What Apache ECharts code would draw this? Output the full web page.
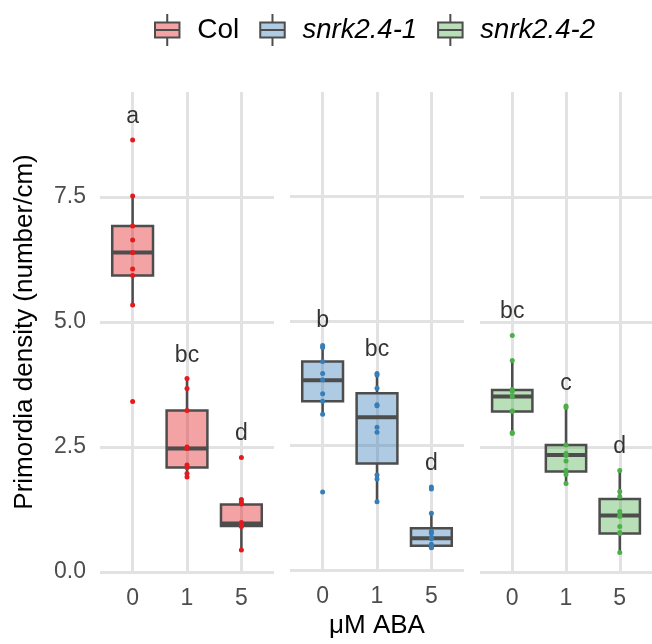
<!DOCTYPE html>
<html>
<head>
<meta charset="utf-8">
<script src="https://cdn.jsdelivr.net/npm/echarts@6/dist/echarts.min.js"></script>
<style>
  html, body { margin: 0; padding: 0; background: #fff; }
  #main { width: 652px; height: 644px; }
</style>
</head>
<body>
<div id="main"></div>
<script>
// ABA doses on the x axis of every panel
const doses = ['0', '1', '5']
const genotypes = ['Col', 'snrk2.4-1', 'snrk2.4-2']

const colPoints = [
  [8.64, 7.52, 6.92, 6.64, 6.39, 6.06, 5.93, 5.34, 3.41],
  [3.87, 3.67, 3.23, 2.50, 2.47, 2.14, 2.09, 1.97, 1.90],
  [2.29, 1.45, 1.40, 1.36, 0.99, 0.96, 0.93, 0.91, 0.44]
]
const snrk1Points = [
  [4.51, 4.47, 4.19, 3.95, 3.82, 3.54, 3.39, 3.13, 1.57],
  [3.95, 3.92, 3.65, 3.32, 3.30, 2.87, 2.77, 1.91, 1.83, 1.37],
  [1.67, 1.63, 1.14, 0.78, 0.74, 0.66, 0.63, 0.52, 0.49, 0.47, 0.46, 0.45]
]
const snrk2Points = [
  [4.73, 4.23, 3.65, 3.61, 3.51, 3.22, 3.21, 2.79, 2.77],
  [3.32, 3.29, 2.54, 2.37, 2.33, 2.22, 2.03, 1.95, 1.77],
  [2.03, 1.61, 1.51, 1.21, 1.13, 1.11, 0.91, 0.79, 0.77, 0.39]
]

// box stats: [lower whisker, Q1, median, Q3, upper whisker]
const colBox = [
  [5.34, 5.93, 6.39, 6.92, 7.52],
  [1.90, 2.09, 2.47, 3.23, 3.87],
  [0.44, 0.92, 0.97, 1.35, 1.44]
]
const snrk1Box = [
  [3.13, 3.39, 3.81, 4.19, 4.51],
  [1.37, 2.14, 3.07, 3.55, 3.95],
  [0.45, 0.49, 0.64, 0.84, 1.14]
]
const snrk2Box = [
  [2.78, 3.21, 3.51, 3.64, 4.23],
  [1.77, 2.01, 2.34, 2.54, 3.31],
  [0.39, 0.77, 1.13, 1.46, 2.03]
]

// significance letters and the height they sit at
const colLetters = ['a', 'bc', 'd']
const colLetterY = [9.1, 4.32, 2.77]
const snrk1Letters = ['b', 'bc', 'd']
const snrk1LetterY = [5.0, 4.42, 2.14]
const snrk2Letters = ['bc', 'c', 'd']
const snrk2LetterY = [5.2, 3.77, 2.5]

const yTicks = [0, 2.5, 5, 7.5]

const pointColors = ['#E41A1C', '#377EB8', '#4DAF4A']
const fillColors = ['rgba(228,26,28,0.4)', 'rgba(55,126,184,0.4)', 'rgba(77,175,74,0.4)']
const dark = '#4d4d4d'
const gridColor = '#e2e2e2'
const font = 'Liberation Sans, Arial, sans-serif'

const allPoints = [colPoints, snrk1Points, snrk2Points]
const allBoxes = [colBox, snrk1Box, snrk2Box]
const allLetters = [colLetters, snrk1Letters, snrk2Letters]
const allLetterY = [colLetterY, snrk1LetterY, snrk2LetterY]

const chart = echarts.init(document.getElementById('main'))

const panelLeft = [100, 290, 480]
const grids = []
const xAxes = []
const yAxes = []
const series = []

for (let i = 0; i < 3; i++) {
  grids.push({ left: panelLeft[i], width: 174, top: 92, height: 480 })
  xAxes.push({
    type: 'value',
    gridIndex: i,
    min: 0.4,
    max: 3.6,
    name: i === 1 ? 'μM ABA' : '',
    nameLocation: 'middle',
    nameGap: 40,
    nameTextStyle: { fontSize: 26, color: '#000', fontFamily: font },
    axisLine: { show: false },
    axisTick: { show: false, customValues: [1, 2, 3] },
    axisLabel: {
      customValues: [1, 2, 3],
      formatter: v => doses[Math.round(v) - 1],
      fontSize: 23,
      color: dark,
      margin: 15,
      fontFamily: font
    },
    splitLine: { show: true, lineStyle: { color: gridColor, width: 3 } }
  })
  yAxes.push({
    type: 'value',
    gridIndex: i,
    min: 0,
    max: 9.6,
    name: i === 0 ? 'Primordia density (number/cm)' : '',
    nameLocation: 'middle',
    nameGap: 62,
    nameTextStyle: { fontSize: 26, color: '#000', fontFamily: font },
    axisLine: { show: false },
    axisTick: { show: false, customValues: yTicks },
    axisLabel: {
      show: i === 0,
      customValues: yTicks,
      formatter: v => v.toFixed(1),
      fontSize: 23,
      color: dark,
      margin: 14,
      fontFamily: font
    },
    splitLine: { show: true, lineStyle: { color: gridColor, width: 3 } }
  })

  // boxes
  series.push({
    name: genotypes[i],
    type: 'custom',
    xAxisIndex: i,
    yAxisIndex: i,
    itemStyle: { color: fillColors[i] },
    data: allBoxes[i].map((b, k) => [k + 1].concat(b)),
    renderItem: function (params, api) {
      const x = api.value(0)
      const low = api.coord([x, api.value(1)])
      const q1 = api.coord([x, api.value(2)])
      const med = api.coord([x, api.value(3)])
      const q3 = api.coord([x, api.value(4)])
      const high = api.coord([x, api.value(5)])
      const left = api.coord([x - 0.375, 0])[0]
      const right = api.coord([x + 0.375, 0])[0]
      return {
        type: 'group',
        children: [
          { type: 'line', shape: { x1: low[0], y1: low[1], x2: q1[0], y2: q1[1] }, style: { stroke: dark, lineWidth: 2.5 } },
          { type: 'line', shape: { x1: q3[0], y1: q3[1], x2: high[0], y2: high[1] }, style: { stroke: dark, lineWidth: 2.5 } },
          { type: 'rect', shape: { x: left, y: q3[1], width: right - left, height: q1[1] - q3[1] }, style: { fill: fillColors[i], stroke: dark, lineWidth: 2.5 } },
          { type: 'line', shape: { x1: left, y1: med[1], x2: right, y2: med[1] }, style: { stroke: dark, lineWidth: 4 } }
        ]
      }
    },
    z: 2
  })

  // points
  const pts = []
  allPoints[i].forEach((arr, k) => arr.forEach(v => pts.push([k + 1, v])))
  series.push({
    name: genotypes[i],
    type: 'scatter',
    xAxisIndex: i,
    yAxisIndex: i,
    symbolSize: 5,
    itemStyle: { color: pointColors[i], opacity: 1 },
    data: pts,
    z: 3
  })

  // letters
  series.push({
    type: 'scatter',
    xAxisIndex: i,
    yAxisIndex: i,
    symbolSize: 0,
    data: allLetters[i].map((t, k) => ({ value: [k + 1, allLetterY[i][k]], letter: t })),
    label: {
      show: true,
      position: 'inside',
      formatter: p => p.data.letter,
      fontSize: 23,
      color: '#000',
      fontFamily: font
    },
    silent: true,
    z: 4
  })
}

const boxIcon = 'path://M0,9H26V25H0Z M0,17H26 M13,0V9 M13,25V34'

const option = {
  backgroundColor: '#fff',
  animation: false,
  legend: {
    top: 8,
    left: 149,
    itemWidth: 26,
    itemHeight: 32,
    itemGap: 20,
    data: genotypes.map((g, i) => ({
      name: g,
      icon: boxIcon,
      itemStyle: { color: fillColors[i], borderColor: dark, borderWidth: 2 }
    })),
    formatter: name => name === 'Col' ? name : '{i|' + name + '}',
    textStyle: {
      fontSize: 28,
      color: '#000',
      fontFamily: font,
      padding: [0, 0, 0, 12],
      rich: { i: { fontStyle: 'italic', fontSize: 27.5, fontFamily: font } }
    }
  },
  grid: grids,
  xAxis: xAxes,
  yAxis: yAxes,
  series: series
}

chart.setOption(option)
window.addEventListener('resize', function () {
  chart.resize()
})
</script>
</body>
</html>
